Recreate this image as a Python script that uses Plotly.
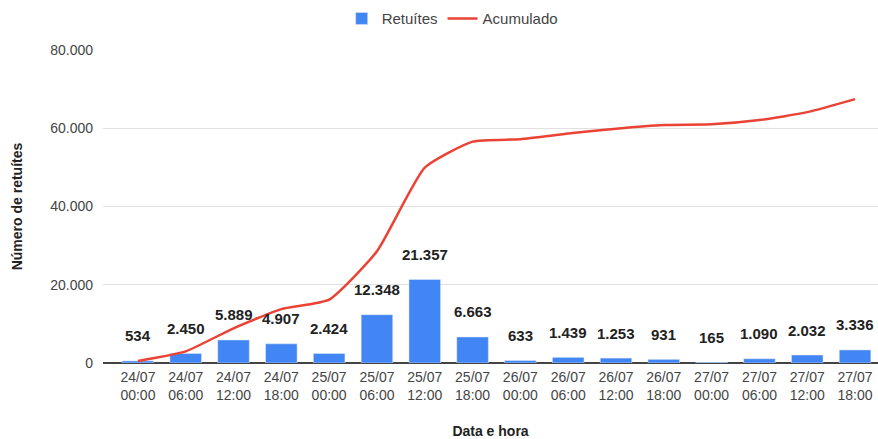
import plotly.graph_objects as go

categories = ["24/07<br>00:00", "24/07<br>06:00", "24/07<br>12:00", "24/07<br>18:00",
              "25/07<br>00:00", "25/07<br>06:00", "25/07<br>12:00", "25/07<br>18:00",
              "26/07<br>00:00", "26/07<br>06:00", "26/07<br>12:00", "26/07<br>18:00",
              "27/07<br>00:00", "27/07<br>06:00", "27/07<br>12:00", "27/07<br>18:00"]
retuites = [534, 2450, 5889, 4907, 2424, 12348, 21357, 6663,
            633, 1439, 1253, 931, 165, 1090, 2032, 3336]
acumulado = [534, 2984, 8873, 13780, 16204, 28552, 49909, 56572,
             57205, 58644, 59897, 60828, 60993, 62083, 64115, 67451]
labels = ["534", "2.450", "5.889", "4.907", "2.424", "12.348", "21.357", "6.663",
          "633", "1.439", "1.253", "931", "165", "1.090", "2.032", "3.336"]

xs = list(range(len(categories)))
FONT = "Liberation Sans, Arial, sans-serif"

fig = go.Figure()
fig.add_trace(go.Bar(x=xs, y=retuites, name="Retuítes", marker_color="#4285F4",
                     width=0.66))
fig.add_trace(go.Scatter(x=xs, y=acumulado, name="Acumulado", mode="lines",
                         line=dict(color="#EA4335", width=2.5, shape="spline", smoothing=0.5)))

for x, v, t in zip(xs, retuites, labels):
    fig.add_annotation(x=x, y=v, text="<b>" + t + "</b>", showarrow=False,
                       yshift=25, font=dict(size=15, color="#222222", family=FONT))

fig.update_layout(
    width=878, height=439,
    margin=dict(l=103, r=0, t=50, b=76),
    plot_bgcolor="white", paper_bgcolor="white",
    separators=",.",
    font=dict(family=FONT, color="#444444", size=14),
    legend=dict(orientation="h", x=0.515, xref="container", xanchor="center",
                y=0.995, yanchor="top", yref="container",
                font=dict(size=15, color="#444444"), itemwidth=30),
    xaxis=dict(tickmode="array", tickvals=xs, ticktext=categories,
               range=[-0.73, 15.48], showgrid=False, showline=False,
               ticks="", ticklabelstandoff=4, tickfont=dict(size=14, color="#444444"),
               title=dict(text="<b>Data e hora</b>", font=dict(size=14, color="#222222"),
                          standoff=26)),
    yaxis=dict(range=[0, 80000], tickvals=[0, 20000, 40000, 60000, 80000],
               tickformat=",d", showgrid=True, gridcolor="#e0e0e0", gridwidth=1,
               zeroline=True, zerolinecolor="#444444", zerolinewidth=1.5,
               ticks="", ticklabelstandoff=9, tickfont=dict(size=14, color="#444444"),
               title=dict(text="<b>Número de retuítes</b>", font=dict(size=14, color="#222222"),
                          standoff=24)),
)

fig.write_html("out.html")
